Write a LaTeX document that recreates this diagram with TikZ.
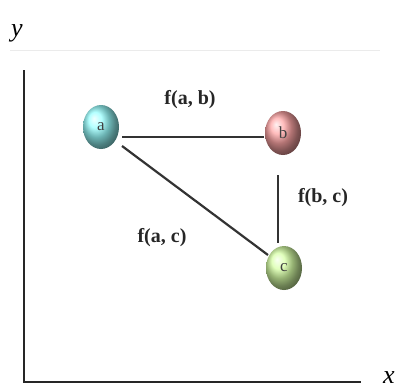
\documentclass[tikz,border=0pt]{standalone}
\usepackage{fontspec}
\setmainfont{Liberation Serif}
\tikzset{
  ball/.style={ellipse, minimum width=36pt, minimum height=44pt, inner sep=0pt, font=\fontsize{17}{17}\selectfont, text=black!75},
  edge/.style={line width=2.2pt, draw=black!80},
  elabel/.style={font=\bfseries\fontsize{20}{20}\selectfont, text=black!85},
  axis/.style={line width=2.5pt, draw=black!85},
}
\usetikzlibrary{shapes.geometric}
\begin{document}
\begin{tikzpicture}[x=1pt,y=-1pt]
\useasboundingbox (0,0) rectangle (401,391);
\fill[white] (0,0) rectangle (401,391);
\draw[black!8, line width=0.8pt] (10,50) -- (380,50);
\coordinate (o) at (24,382);
\coordinate (ytop) at (24,70);
\coordinate (xend) at (361,382);
\draw[axis] (ytop) -- (o) -- (xend);
\node[font=\itshape\fontsize{26}{26}\selectfont] (ylab) at (17,33) {y};
\node[font=\itshape\fontsize{26}{26}\selectfont] (xlab) at (389,378) {x};
\node[ball, ball color=cyan!40!white] (a) at (101,127) {a};
\node[ball, ball color=red!35!white] (b) at (283,133) {b};
\node[ball, ball color=yellow!55!green!35!white] (c) at (284,268) {c};
\coordinate (ae) at (122,137);
\coordinate (bw) at (264,137);
\coordinate (ase) at (122,146);
\coordinate (cnw) at (268,255);
\coordinate (bs) at (278,175);
\coordinate (cn) at (278,243);
\draw[edge] (ae) -- (bw);
\draw[edge] (ase) -- (cnw);
\draw[edge] (bs) -- (cn);
\node[elabel] (fab) at (190,100) {f(a, b)};
\node[elabel] (fbc) at (323,198) {f(b, c)};
\node[elabel] (fac) at (162,238) {f(a, c)};
\end{tikzpicture}
\end{document}
